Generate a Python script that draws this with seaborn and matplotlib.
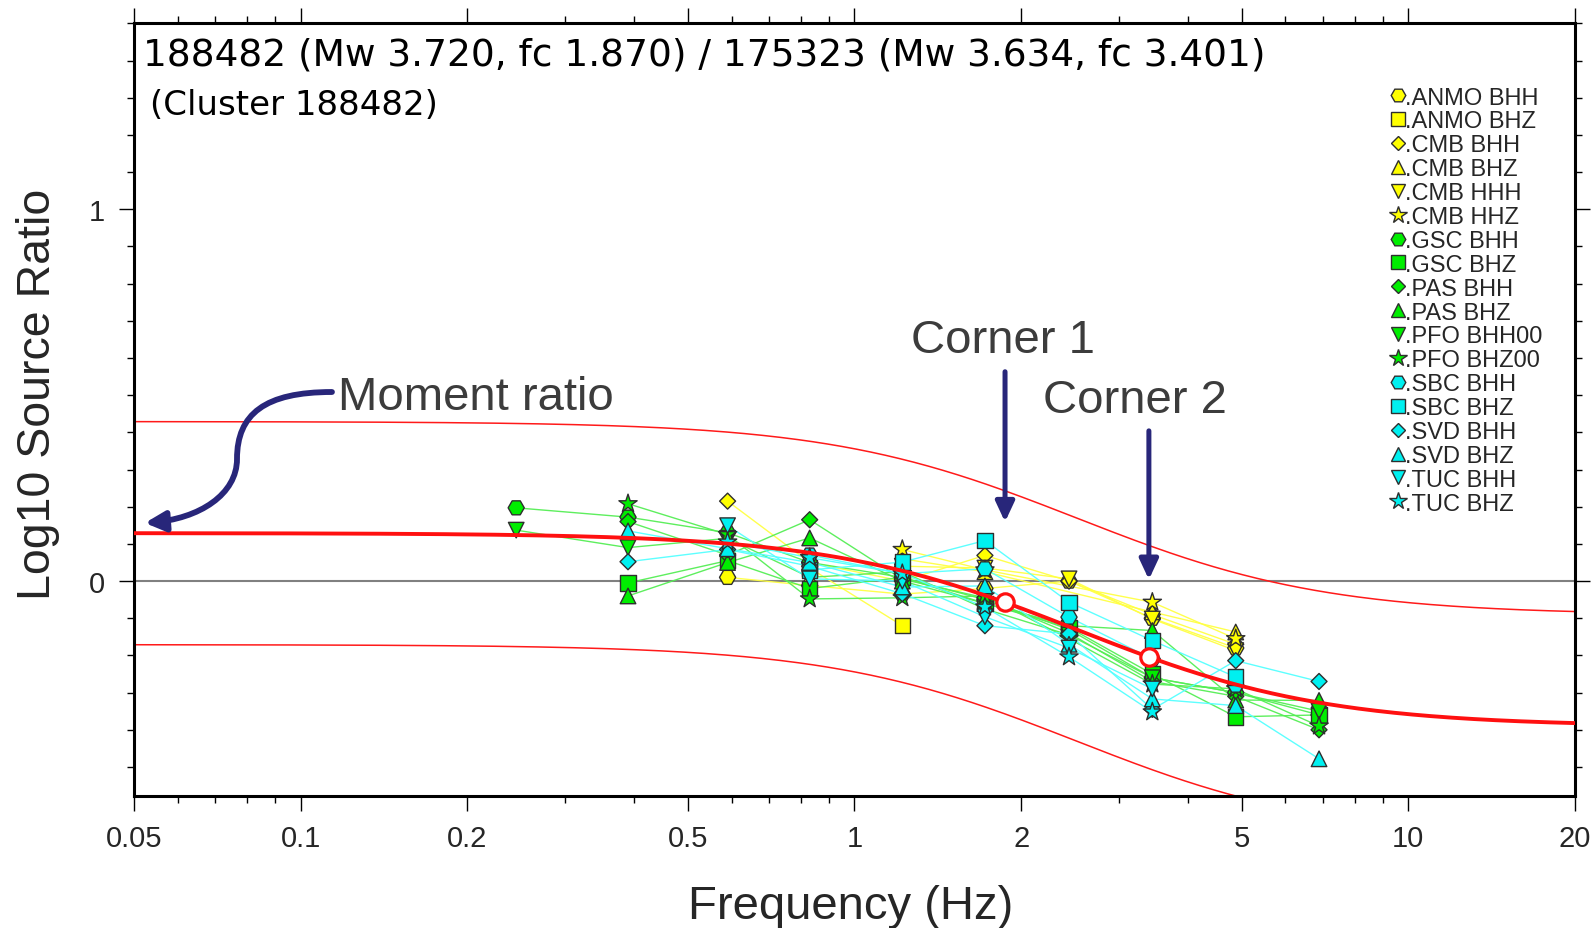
import numpy as np
import pandas as pd
import matplotlib
matplotlib.use("Agg")
import matplotlib.pyplot as plt
import seaborn as sns
from matplotlib.lines import Line2D
from matplotlib.path import Path
from matplotlib.patches import FancyArrowPatch

nan = np.nan

# Event pair and source-model parameters
event1, mw1, fc1 = "188482", 3.720, 1.870
event2, mw2, fc2 = "175323", 3.634, 3.401
cluster = "188482"
band = 0.3  # half-width of the bounding curves (log10 units)

# Frequencies of the measured spectral ratios (Hz)
freqs = [0.245, 0.39, 0.59, 0.83, 1.22, 1.72, 2.44, 3.45, 4.88, 6.9]

stations = ["ANMO BHH", "ANMO BHZ", "CMB BHH", "CMB BHZ", "CMB HHH", "CMB HHZ",
            "GSC BHH", "GSC BHZ", "PAS BHH", "PAS BHZ", "PFO BHH00", "PFO BHZ00",
            "SBC BHH", "SBC BHZ", "SVD BHH", "SVD BHZ", "TUC BHH", "TUC BHZ"]

# log10 source ratio per station/channel at each frequency
anmo_bhh = [nan, nan, 0.010, -0.012, -0.035, -0.020, 0.000, -0.100, -0.180, nan]
anmo_bhz = [nan, nan, nan, 0.035, -0.120, nan, nan, nan, nan, nan]
cmb_bhh = [nan, nan, 0.215, 0.050, 0.000, 0.069, 0.000, -0.090, -0.170, nan]
cmb_bhz = [nan, nan, nan, nan, 0.060, 0.025, nan, -0.083, -0.137, nan]
cmb_hhh = [nan, nan, nan, nan, 0.040, 0.035, 0.006, -0.102, -0.187, nan]
cmb_hhz = [nan, nan, nan, nan, 0.085, 0.030, nan, -0.057, -0.155, nan]
gsc_bhh = [0.197, 0.172, 0.130, 0.050, 0.010, -0.050, -0.130, -0.260, -0.300, -0.360]
gsc_bhz = [nan, -0.005, 0.055, -0.020, 0.010, -0.060, -0.125, -0.250, -0.365, -0.360]
pas_bhh = [nan, 0.160, 0.070, 0.165, 0.005, -0.045, -0.140, -0.270, -0.310, -0.400]
pas_bhz = [nan, -0.040, 0.050, 0.116, 0.000, -0.060, -0.120, -0.133, -0.320, -0.321]
pfo_bhh00 = [0.137, 0.090, 0.115, 0.010, 0.025, -0.075, -0.145, -0.260, -0.300, -0.350]
pfo_bhz00 = [nan, 0.208, 0.125, -0.048, -0.045, -0.040, -0.155, -0.277, -0.290, -0.390]
sbc_bhh = [nan, nan, nan, 0.070, 0.020, 0.033, -0.097, -0.210, -0.280, nan]
sbc_bhz = [nan, nan, nan, 0.030, 0.051, 0.109, -0.057, -0.160, -0.258, nan]
svd_bhh = [nan, 0.052, 0.085, 0.040, -0.034, -0.120, -0.142, -0.345, -0.214, -0.270]
svd_bhz = [nan, 0.135, 0.087, 0.050, -0.016, -0.013, -0.170, -0.317, -0.335, -0.478]
tuc_bhh = [nan, nan, 0.149, 0.006, 0.000, -0.096, -0.180, -0.290, nan, nan]
tuc_bhz = [nan, nan, 0.105, 0.063, 0.020, -0.070, -0.204, -0.352, nan, nan]

ratios = [anmo_bhh, anmo_bhz, cmb_bhh, cmb_bhz, cmb_hhh, cmb_hhz,
          gsc_bhh, gsc_bhz, pas_bhh, pas_bhz, pfo_bhh00, pfo_bhz00,
          sbc_bhh, sbc_bhz, svd_bhh, svd_bhz, tuc_bhh, tuc_bhz]

# Tick positions and labels
xticks_major = [0.05, 0.1, 0.2, 0.5, 1, 2, 5, 10, 20]
xticklabels = ["0.05", "0.1", "0.2", "0.5", "1", "2", "5", "10", "20"]
xticks_minor = [0.06, 0.07, 0.08, 0.09, 0.3, 0.4, 0.6, 0.7, 0.8, 0.9,
                3, 4, 6, 7, 8, 9]
yticks_major = [0, 1]
yticklabels = ["0", "1"]

# ---- styling ---------------------------------------------------------
shape_cycle = ["H", "s", "D", "^", "v", "*"]
shape_size = {"H": 135, "s": 125, "D": 66, "^": 125, "v": 125, "*": 190}
face_yellow, face_green, face_cyan = "#ffff00", "#00ee00", "#00f0f0"
line_yellow, line_green, line_cyan = "#ffff44", "#55ee55", "#55ffff"

markers = {s: shape_cycle[i % 6] for i, s in enumerate(stations)}
sizes = {s: shape_size[markers[s]] for s in stations}
faces = {s: (face_yellow if i < 6 else face_green if i < 12 else face_cyan)
         for i, s in enumerate(stations)}
lines = {s: (line_yellow if i < 6 else line_green if i < 12 else line_cyan)
         for i, s in enumerate(stations)}

rows = []
for s, vals in zip(stations, ratios):
    for f, v in zip(freqs, vals):
        rows.append({"station": s, "freq": f, "ratio": v})
df = pd.DataFrame(rows).dropna()
df["order"] = df["station"].map({s: i for i, s in enumerate(stations)})
df = df.sort_values(["order", "freq"]).reset_index(drop=True)

# Source-ratio model (Brune, omega-square) and its bounds
fgrid = np.logspace(np.log10(0.05), np.log10(20), 400)
log_moment_ratio = 1.5 * (mw1 - mw2)


def source_ratio(f):
    f = np.asarray(f, dtype=float)
    return log_moment_ratio + np.log10((1 + (f / fc2) ** 2) / (1 + (f / fc1) ** 2))


model = source_ratio(fgrid)
corner_f = [fc1, fc2]
corner_y = source_ratio(corner_f)

sns.set_style("ticks")
plt.rcParams["font.family"] = ["Liberation Sans", "DejaVu Sans"]

fig = plt.figure(figsize=(15.93, 9.29), dpi=100)
ax = fig.add_axes([0.0841, 0.1421, 0.9046, 0.8321])
ax.set_xscale("log")

ax.axhline(0, color="#808080", lw=1.5, zorder=1)
sns.lineplot(x=fgrid, y=model + band, color="#ff1a1a", lw=1.1, ax=ax, zorder=2)
sns.lineplot(x=fgrid, y=model - band, color="#ff1a1a", lw=1.1, ax=ax, zorder=2)

sns.lineplot(data=df, x="freq", y="ratio", hue="station", hue_order=stations,
             palette=lines, units="station", estimator=None, sort=False,
             lw=1.0, alpha=0.95, legend=False, ax=ax, zorder=3)
sns.scatterplot(data=df, x="freq", y="ratio", hue="station", hue_order=stations,
                palette=faces, style="station", style_order=stations,
                markers=markers, size="station", size_order=stations,
                sizes=sizes, edgecolor="#2e2e2e", linewidth=1.0,
                legend=False, ax=ax, zorder=4)

sns.lineplot(x=fgrid, y=model, color="#ff1010", lw=2.8, ax=ax, zorder=5)
ax.plot(corner_f, corner_y, ls="none", marker="o", ms=12.5, mfc="white",
        mec="#ff1010", mew=2.3, zorder=6)

ax.set_xlim(0.05, 20)
ax.set_ylim(-0.578, 1.501)

# ---- axes, ticks ------------------------------------------------------
ax.set_xticks(xticks_major)
ax.set_xticklabels(xticklabels)
ax.set_xticks(xticks_minor, minor=True)
ax.set_xticklabels([], minor=True)
ax.set_yticks(yticks_major)
ax.set_yticklabels(yticklabels)
ax.set_yticks([v / 10 for v in range(-5, 16) if v not in (0, 10)], minor=True)
for sp in ax.spines.values():
    sp.set_visible(True)
    sp.set_linewidth(2.2)
    sp.set_color("black")
ax.tick_params(which="both", direction="out", top=True, right=True,
               width=1.0, color="black", labelsize=21)
ax.tick_params(which="major", length=10.5)
ax.tick_params(which="minor", length=5)
ax.tick_params(axis="x", which="major", pad=9.5)
ax.tick_params(axis="y", which="major", pad=10.5)

ax.set_xlabel("Frequency (Hz)", fontsize=34)
ax.xaxis.set_label_coords(0.497, -0.114)
ax.set_ylabel("Log10 Source Ratio", fontsize=33.5)
ax.yaxis.set_label_coords(-0.051, 0.521)

# ---- title block ------------------------------------------------------
ax.text(0.0062, 0.9457,
        f"{event1} (Mw {mw1:.3f}, fc {fc1:.3f}) / {event2} (Mw {mw2:.3f}, fc {fc2:.3f})",
        transform=ax.transAxes, ha="left", va="baseline", fontsize=27,
        family=["DejaVu Sans"], color="black")
ax.text(0.0111, 0.8823, f"(Cluster {cluster})", transform=ax.transAxes,
        ha="left", va="baseline", fontsize=24.5, family=["DejaVu Sans"], color="black")

# ---- annotations ------------------------------------------------------
navy = "#28267a"
txt_gray = "#3c3c3c"
ax.text(0.1167, 0.462, "Moment ratio", fontsize=34, color=txt_gray,
        ha="left", va="baseline")
ax.text(1.265, 0.615, "Corner 1", fontsize=34, color=txt_gray,
        ha="left", va="baseline")
ax.text(2.19, 0.456, "Corner 2", fontsize=34, color=txt_gray,
        ha="left", va="baseline")

for fc, y0, y1 in [(fc1, 0.563, 0.159), (fc2, 0.404, 0.004)]:
    ax.annotate("", xy=(fc, y1), xytext=(fc, y0),
                arrowprops=dict(arrowstyle="-|>,head_length=0.6,head_width=0.28",
                                mutation_scale=20, lw=3.6, color=navy,
                                shrinkA=0, shrinkB=0), zorder=7)

s_curve = Path([(0.1374, 0.5226), (0.0909, 0.5226), (0.0715, 0.4942),
                (0.0715, 0.4360), (0.0715, 0.3907), (0.0458, 0.3583),
                (0.0076, 0.3532)],
               [Path.MOVETO, Path.CURVE4, Path.CURVE4, Path.CURVE4,
                Path.CURVE4, Path.CURVE4, Path.CURVE4])
ax.add_patch(FancyArrowPatch(path=s_curve, transform=ax.transAxes,
                             arrowstyle="-|>,head_length=0.6,head_width=0.3",
                             mutation_scale=20, lw=4.2, color=navy, zorder=7))

# ---- legend -----------------------------------------------------------
leg_size = {"H": 10.5, "s": 10.5, "D": 7.5, "^": 10.5, "v": 10.5, "*": 13.0}
handles = [Line2D([], [], ls="none", marker=markers[s], ms=leg_size[markers[s]],
                  mfc=faces[s], mec="#2e2e2e", mew=1.0) for s in stations]
ax.legend(handles, ["." + s for s in stations], loc="upper left",
          bbox_to_anchor=(0.8706, 0.9178), frameon=False, fontsize=17,
          handlelength=0.8, handletextpad=-0.1, labelspacing=0.08,
          borderpad=0, borderaxespad=0)

fig.savefig("out.png", dpi=100)
